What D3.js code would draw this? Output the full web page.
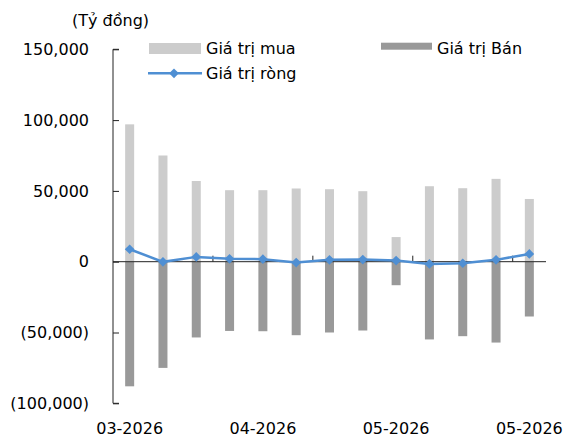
<!DOCTYPE html>
<html>
<head>
<meta charset="utf-8">
<script src="https://cdn.jsdelivr.net/npm/d3@7"></script>
<style>
  body { margin: 0; background: #fff; }
  svg text { font-family: "DejaVu Sans", sans-serif; font-size: 16px; fill: #000; }
</style>
</head>
<body>
<svg id="canvas"></svg>
<script>
/***********************************************************************/
// Data

var months = ['03-2026', '03-2026', '03-2026', '03-2026', '04-2026', '04-2026', '04-2026',
              '04-2026', '05-2026', '05-2026', '05-2026', '05-2026', '05-2026'];
var labelIndex = [0, 4, 8, 12];
var buyValues  = [97000, 75000, 57000, 50500, 50500, 51700, 51200, 49800, 17400, 53300, 51900, 58500, 44300];
var sellValues = [-88000, -75000, -53500, -48900, -49100, -51900, -50000, -48600, -16600, -54900, -52600, -57100, -38700];
var netValues  = [8800, -100, 3400, 2000, 1800, -600, 1300, 1500, 800, -1600, -1100, 1300, 5500];
var yTicks = [150000, 100000, 50000, 0, -50000, -100000];

/***********************************************************************/
// Setup

var svg_width = 573, svg_height = 438;
var plotLeft = 113, plotRight = 546, plotTop = 49.3, plotBottom = 403.3;
var barWidth = 9;
var lineColor = '#4f8fd3';

var svg = d3.select('#canvas').attr('width', svg_width).attr('height', svg_height);

var xScale = d3.scaleBand().domain(d3.range(months.length)).range([plotLeft, plotRight]).padding(0);
var yScale = d3.scaleLinear().domain([150000, -100000]).range([plotTop, plotBottom]);

var fmt = d => d < 0 ? '(' + d3.format(',')(-d) + ')' : d3.format(',')(d);
var cx = i => xScale(i) + xScale.bandwidth() / 2;

/***********************************************************************/
// Bars

svg.append('g').selectAll('rect').data(buyValues).join('rect')
  .attr('x', (d, i) => cx(i) - barWidth / 2)
  .attr('y', d => yScale(d))
  .attr('width', barWidth)
  .attr('height', d => yScale(0) - yScale(d))
  .attr('fill', '#cccccc');

svg.append('g').selectAll('rect').data(sellValues).join('rect')
  .attr('x', (d, i) => cx(i) - barWidth / 2)
  .attr('y', yScale(0))
  .attr('width', barWidth)
  .attr('height', d => yScale(d) - yScale(0))
  .attr('fill', '#999999');

/***********************************************************************/
// Axes

var yAxis = d3.axisRight(yScale).tickValues(yTicks).tickSize(6).tickFormat('');
var yg = svg.append('g').attr('transform', 'translate(' + plotLeft + ',0)').call(yAxis);
yg.select('.domain').attr('d', 'M6,' + plotTop + 'H0V' + plotBottom + 'H6').attr('stroke', '#222');
yg.selectAll('line').attr('stroke', '#222');

svg.append('g').selectAll('text').data(yTicks).join('text')
  .attr('x', 89)
  .attr('y', d => yScale(d))
  .attr('dy', '0.36em')
  .attr('text-anchor', 'end')
  .text(fmt);

// x axis line at zero, tick marks every 3 categories pointing up
svg.append('line')
  .attr('x1', plotLeft).attr('x2', plotRight)
  .attr('y1', yScale(0)).attr('y2', yScale(0))
  .attr('stroke', '#222');

svg.append('g').selectAll('line').data(d3.range(3, months.length, 3)).join('line')
  .attr('x1', i => xScale(i)).attr('x2', i => xScale(i))
  .attr('y1', yScale(0)).attr('y2', yScale(0) - 6)
  .attr('stroke', '#222');

svg.append('g').selectAll('text').data(labelIndex).join('text')
  .attr('x', i => cx(i))
  .attr('y', 434)
  .attr('text-anchor', 'middle')
  .text(i => months[i]);

svg.append('text').attr('x', 72).attr('y', 26).text('(Tỷ đồng)');

/***********************************************************************/
// Net line

var line = d3.line().x((d, i) => cx(i)).y(d => yScale(d));
svg.append('path').datum(netValues)
  .attr('d', line)
  .attr('fill', 'none')
  .attr('stroke', lineColor)
  .attr('stroke-width', 2.5);

var diamond = d3.symbol().type(d3.symbolDiamond2).size(60);
svg.append('g').selectAll('path').data(netValues).join('path')
  .attr('d', diamond)
  .attr('transform', (d, i) => 'translate(' + cx(i) + ',' + yScale(d) + ')')
  .attr('fill', lineColor);

/***********************************************************************/
// Legend

var legend = svg.append('g');
legend.append('rect').attr('x', 149).attr('y', 43).attr('width', 52).attr('height', 11).attr('fill', '#cccccc');
legend.append('text').attr('x', 206).attr('y', 54).text('Giá trị mua');

legend.append('rect').attr('x', 381).attr('y', 42.7).attr('width', 51).attr('height', 7).attr('fill', '#999999');
legend.append('text').attr('x', 437).attr('y', 54).text('Giá trị Bán');

legend.append('line').attr('x1', 148).attr('x2', 202).attr('y1', 73.3).attr('y2', 73.3)
  .attr('stroke', lineColor).attr('stroke-width', 2.5);
legend.append('path').attr('d', diamond).attr('transform', 'translate(174,73.3)').attr('fill', lineColor);
legend.append('text').attr('x', 206).attr('y', 79).text('Giá trị ròng');
</script>
</body>
</html>
